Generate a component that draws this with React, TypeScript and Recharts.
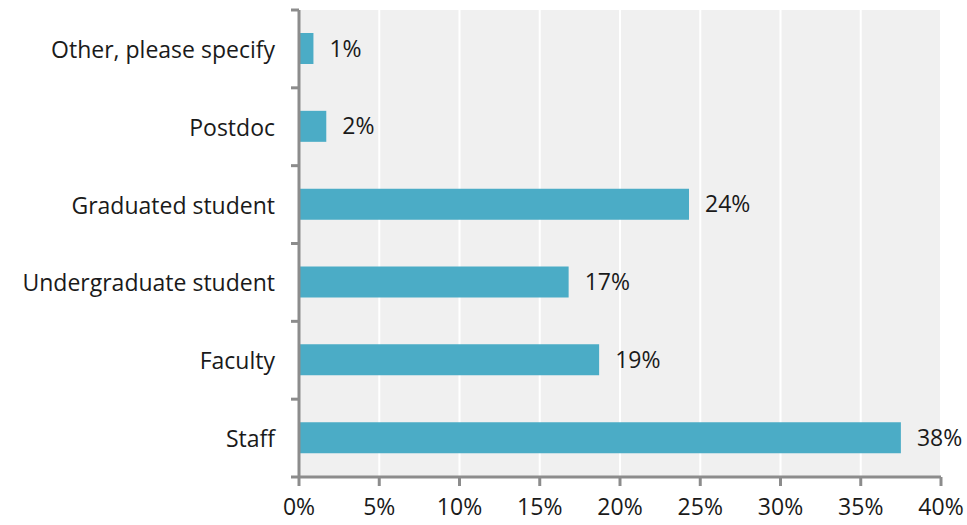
import { BarChart, Bar, XAxis, YAxis, CartesianGrid, LabelList } from "recharts";

const categories = [
  "Other, please specify",
  "Postdoc",
  "Graduated student",
  "Undergraduate student",
  "Faculty",
  "Staff",
];
const shares = [0.9, 1.7, 24.3, 16.8, 18.7, 37.5];
const xTicks = [0, 5, 10, 15, 20, 25, 30, 35, 40];

const data = categories.map((name, i) => ({ name, value: shares[i] }));

const FONT = "'Open Sans', 'Noto Sans', sans-serif";
const FONT_SIZE = 23;
const axisColor = "#8c8c8c";
const textColor = "#1a1a1a";

const W = 967;
const H = 525;
const margin = { top: 10, right: 26, bottom: 0, left: 0 };
const xAxisHeight = 48;
const yAxisWidth = 299;
const labelGap = 24;
const bandHalf = (H - margin.top - margin.bottom - xAxisHeight) / categories.length / 2;

// category label plus a tick mark on the band boundaries (like the original)
function CategoryTick(props: any) {
  const { x, y, payload, index } = props;
  const axisX = x + labelGap;
  return (
    <g>
      <text
        x={x}
        y={y}
        textAnchor="end"
        dominantBaseline="central"
        fontSize={FONT_SIZE}
        fill={textColor}
        fontFamily={FONT}
      >
        {payload.value}
      </text>
      <line x1={axisX - 8} x2={axisX} y1={y - bandHalf} y2={y - bandHalf} stroke={axisColor} strokeWidth={3} />
      {index === categories.length - 1 && (
        <line x1={axisX - 8} x2={axisX} y1={y + bandHalf} y2={y + bandHalf} stroke={axisColor} strokeWidth={3} />
      )}
    </g>
  );
}

export default function App() {
  return (
    <div style={{ position: "absolute", left: 0, top: 0, fontFamily: FONT }}>
      <BarChart width={W} height={H} data={data} layout="vertical" margin={margin} barSize={31}>
        <CartesianGrid horizontal={false} stroke="#ffffff" strokeWidth={2} fill="#f0f0f0" />
        <XAxis
          type="number"
          domain={[0, 40]}
          ticks={xTicks}
          tickFormatter={(v: number) => `${v}%`}
          height={xAxisHeight}
          tickSize={9}
          tickMargin={13}
          axisLine={{ stroke: axisColor, strokeWidth: 3 }}
          tickLine={{ stroke: axisColor, strokeWidth: 3 }}
          tick={{ fontSize: FONT_SIZE, fill: textColor, fontFamily: FONT }}
          interval={0}
        />
        <YAxis
          type="category"
          dataKey="name"
          width={yAxisWidth}
          axisLine={{ stroke: axisColor, strokeWidth: 3 }}
          tickLine={false}
          tickSize={0}
          tickMargin={labelGap}
          tick={<CategoryTick />}
          interval={0}
        />
        <Bar dataKey="value" fill="#4bacc6" isAnimationActive={false}>
          <LabelList
            dataKey="value"
            position="right"
            offset={16}
            formatter={(v: number) => `${Math.round(v)}%`}
            style={{ fontSize: FONT_SIZE, fill: textColor, fontFamily: FONT }}
          />
        </Bar>
      </BarChart>
    </div>
  );
}
